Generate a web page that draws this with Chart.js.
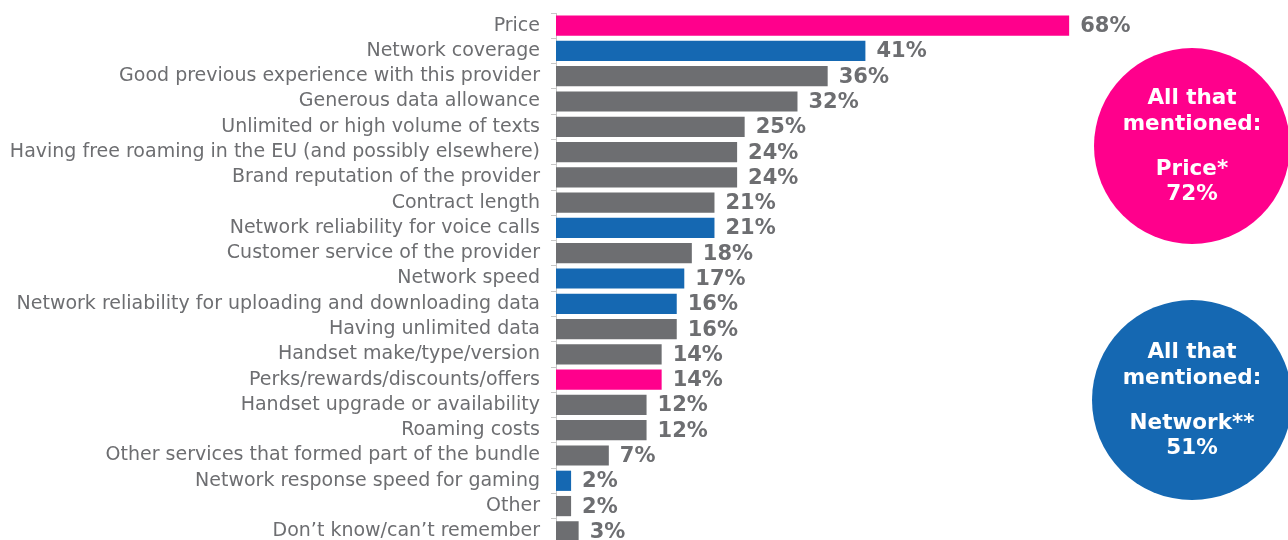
<!DOCTYPE html>
<html>
<head>
<meta charset="utf-8">
<script src="https://cdn.jsdelivr.net/npm/chart.js@4/dist/chart.umd.min.js"></script>
<style>
  html, body { margin: 0; padding: 0; background: #fff; overflow: hidden; }
  #wrap { position: relative; width: 1288px; height: 546px; }
</style>
</head>
<body>
<div id="wrap"><canvas id="reasonChart"></canvas></div>
<script>
const categories = [
  "Price",
  "Network coverage",
  "Good previous experience with this provider",
  "Generous data allowance",
  "Unlimited or high volume of texts",
  "Having free roaming in the EU (and possibly elsewhere)",
  "Brand reputation of the provider",
  "Contract length",
  "Network reliability for voice calls",
  "Customer service of the provider",
  "Network speed",
  "Network reliability for uploading and downloading data",
  "Having unlimited data",
  "Handset make/type/version",
  "Perks/rewards/discounts/offers",
  "Handset upgrade or availability",
  "Roaming costs",
  "Other services that formed part of the bundle",
  "Network response speed for gaming",
  "Other",
  "Don\u2019t know/can\u2019t remember",
];

const values = [68, 41, 36, 32, 25, 24, 24, 21, 21, 18, 17, 16, 16, 14, 14, 12, 12, 7, 2, 2, 3];

// p = price group, n = network group, o = other
const groups = ["p", "n", "o", "o", "o", "o", "o", "o", "n", "o", "n", "n", "o", "o", "p", "o", "o", "o", "n", "o", "o"];

const summaryLines = [
  ["All that", "mentioned:", "", "Price*", "72%"],
  ["All that", "mentioned:", "", "Network**", "51%"],
];

const colors = {
  p: "#ff008c",
  n: "#1568b2",
  o: "#6d6e71",
};
const textGray = "#6d6e71";
const fontFamily = "'DejaVu Sans', Verdana, sans-serif";

const valueLabels = {
  id: "valueLabels",
  afterDatasetsDraw(chart) {
    const ctx = chart.ctx;
    const meta = chart.getDatasetMeta(0);
    ctx.save();
    ctx.font = "bold 21px " + fontFamily;
    ctx.fillStyle = textGray;
    ctx.textBaseline = "middle";
    ctx.textAlign = "left";
    meta.data.forEach((bar, i) => {
      ctx.fillText(values[i] + "%", bar.x + 11, bar.y + 1);
    });
    ctx.restore();
  },
};

const summaryCircles = {
  id: "summaryCircles",
  afterDraw(chart) {
    const ctx = chart.ctx;
    const spots = [
      { x: 1192, y: 146, r: 98, color: colors.p },
      { x: 1192, y: 400, r: 100, color: colors.n },
    ];
    ctx.save();
    spots.forEach((s, k) => {
      ctx.beginPath();
      ctx.arc(s.x, s.y, s.r, 0, Math.PI * 2);
      ctx.fillStyle = s.color;
      ctx.fill();
      ctx.fillStyle = "#fff";
      ctx.font = "bold 21.5px " + fontFamily;
      ctx.textAlign = "center";
      ctx.textBaseline = "middle";
      const top = s.y - 48;
      const gaps = [0, 26, 48, 71, 96];
      summaryLines[k].forEach((line, j) => {
        if (line) ctx.fillText(line, s.x, top + gaps[j]);
      });
    });
    ctx.restore();
  },
};

new Chart(document.getElementById("reasonChart"), {
  type: "bar",
  data: {
    labels: categories,
    datasets: [
      {
        data: values,
        backgroundColor: groups.map((g) => colors[g]),
        borderWidth: 0,
        barPercentage: 0.8,
        categoryPercentage: 1,
      },
    ],
  },
  options: {
    indexAxis: "y",
    animation: false,
    responsive: true,
    maintainAspectRatio: false,
    layout: { padding: { top: 13, bottom: 2, left: 0, right: 0 } },
    plugins: {
      legend: { display: false },
      tooltip: { enabled: false },
    },
    scales: {
      x: {
        display: false,
        min: 0,
        max: 97,
      },
      y: {
        afterFit: (scale) => {
          scale.width = 556;
          scale.paddingTop = 0;
          scale.paddingBottom = 0;
        },
        grid: {
          drawOnChartArea: false,
          tickLength: 5,
          color: "#c8c8c8",
        },
        border: { color: "#c8c8c8" },
        ticks: {
          autoSkip: false,
          padding: 11,
          color: textGray,
          font: { family: fontFamily, size: 19 },
        },
      },
    },
  },
  plugins: [valueLabels, summaryCircles],
});
</script>
</body>
</html>
